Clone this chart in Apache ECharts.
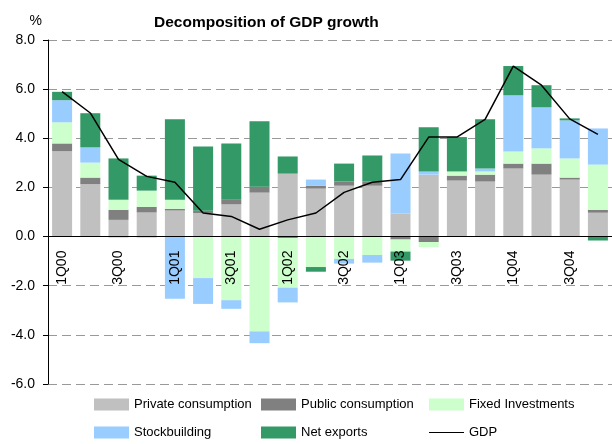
<!DOCTYPE html>
<html>
<head>
<meta charset="utf-8">
<script src="https://cdn.jsdelivr.net/npm/echarts@6/dist/echarts.min.js"></script>
<style>
  html, body { margin: 0; padding: 0; background: #fff; }
  #main { width: 612px; height: 444px; }
</style>
</head>
<body>
<div id="main"></div>
<script>
// quarters
const quarters = ['1Q00', '2Q00', '3Q00', '4Q00', '1Q01', '2Q01', '3Q01', '4Q01',
  '1Q02', '2Q02', '3Q02', '4Q02', '1Q03', '2Q03', '3Q03', '4Q03',
  '1Q04', '2Q04', '3Q04', '4Q04'];
// contributions, % points
const privateCons = [3.48, 2.13, 0.68, 0.98, 1.06, 0.96, 1.31, 1.79, 2.56, 1.95,
  2.07, 2.07, 0.94, 2.52, 2.28, 2.24, 2.77, 2.52, 2.32, 0.97];
const publicCons = [0.31, 0.27, 0.41, 0.23, 0.07, 0.09, 0.19, 0.24, -0.06, 0.12,
  0.17, 0.17, -0.12, -0.22, 0.20, 0.28, 0.20, 0.45, 0.08, 0.12];
const fixedInv = [0.86, 0.61, 0.41, 0.66, 0.37, -1.69, -2.59, -3.86, -2.02, -1.24,
  -0.91, -0.75, -0.49, -0.21, 0.17, 0.13, 0.49, 0.62, 0.78, 1.84];
const stockbuilding = [0.90, 0.62, -0.04, -0.04, -2.53, -1.05, -0.35, -0.48, -0.60, 0.25,
  -0.19, -0.31, 2.44, 0.13, 0, 0.12, 2.29, 1.67, 1.55, 1.47];
const netExports = [0.34, 1.39, 1.68, 0.61, 3.27, 2.62, 2.29, 2.66, 0.70, -0.19,
  0.73, 1.06, -0.37, 1.80, 1.40, 2.00, 1.19, 0.90, 0.08, -0.16];
const gdp = [5.90, 5.03, 3.14, 2.45, 2.21, 0.96, 0.82, 0.30, 0.68, 0.96,
  1.80, 2.21, 2.32, 4.05, 4.05, 4.77, 6.94, 6.16, 4.79, 4.16];
const yTicks = [-6, -4, -2, 0, 2, 4, 6, 8];

const font = 'Liberation Sans, Arial, sans-serif';

// grid geometry, used to lift the category axis onto the zero line
const gridTop = 40;
const gridBottom = 60;
const plotHeight = 444 - gridTop - gridBottom;
const yMin = yTicks[0];
const yMax = yTicks[yTicks.length - 1];
const zeroOffset = -plotHeight * (0 - yMin) / (yMax - yMin);

function barSeries(name, data, color) {
  return {
    name: name,
    type: 'bar',
    stack: 'gdp',
    barWidth: 20,
    data: data,
    itemStyle: { color: color },
    emphasis: { disabled: true }
  };
}

// one legend per entry, laid out in a 3x2 table
function legendItem(item, left, top) {
  return {
    left: left,
    top: top,
    padding: 0,
    itemWidth: 35,
    itemHeight: 12,
    data: [item],
    textStyle: { fontFamily: font, fontSize: 13, color: '#000' }
  };
}

const chart = echarts.init(document.getElementById('main'), null, { renderer: 'canvas' });

const option = {
  animation: false,
  backgroundColor: '#fff',
  title: {
    text: 'Decomposition of GDP growth',
    left: 149,
    top: 10,
    textStyle: { fontFamily: font, fontSize: 15.5, fontWeight: 'bold', color: '#000' }
  },
  legend: [
    legendItem({ name: 'Private consumption', icon: 'rect' }, 94, 398),
    legendItem({ name: 'Public consumption', icon: 'rect' }, 261, 398),
    legendItem({ name: 'Fixed Investments', icon: 'rect' }, 429, 398),
    legendItem({ name: 'Stockbuilding', icon: 'rect' }, 94, 426),
    legendItem({ name: 'Net exports', icon: 'rect' }, 261, 426),
    legendItem({ name: 'GDP', icon: 'path://M0,0H34V1.2H0Z', itemStyle: { color: '#000' } }, 429, 426)
  ],
  grid: { left: 48, right: 0, top: gridTop, bottom: gridBottom },
  xAxis: {
    type: 'category',
    data: quarters,
    offset: zeroOffset,
    axisLine: { onZero: false, lineStyle: { color: '#000', width: 1 } },
    axisTick: { interval: 0, length: 4, lineStyle: { color: '#000' } },
    axisLabel: {
      interval: 1,
      rotate: 90,
      margin: 14,
      fontFamily: font,
      fontSize: 14,
      color: '#000'
    },
    z: 5
  },
  yAxis: {
    type: 'value',
    min: yMin,
    max: yMax,
    interval: 2,
    name: '%',
    nameGap: 12,
    nameTextStyle: { fontFamily: font, fontSize: 14, color: '#000', align: 'right', padding: [0, 6, 0, 0] },
    axisLine: { show: true, lineStyle: { color: '#000', width: 1 } },
    axisTick: { show: true, length: 5, lineStyle: { color: '#000' } },
    axisLabel: {
      margin: 13,
      fontFamily: font,
      fontSize: 14,
      color: '#000',
      formatter: function (v) { return v.toFixed(1); }
    },
    splitLine: { lineStyle: { color: '#999', type: [9, 5], width: 1 } }
  },
  series: [
    barSeries('Private consumption', privateCons, '#C0C0C0'),
    barSeries('Public consumption', publicCons, '#808080'),
    barSeries('Fixed Investments', fixedInv, '#CCFFCC'),
    barSeries('Stockbuilding', stockbuilding, '#99CCFF'),
    barSeries('Net exports', netExports, '#339966'),
    {
      name: 'GDP',
      type: 'line',
      data: gdp,
      symbol: 'none',
      lineStyle: { color: '#000', width: 1.5 },
      itemStyle: { color: '#000' },
      z: 10
    }
  ]
};

chart.setOption(option);
</script>
</body>
</html>
